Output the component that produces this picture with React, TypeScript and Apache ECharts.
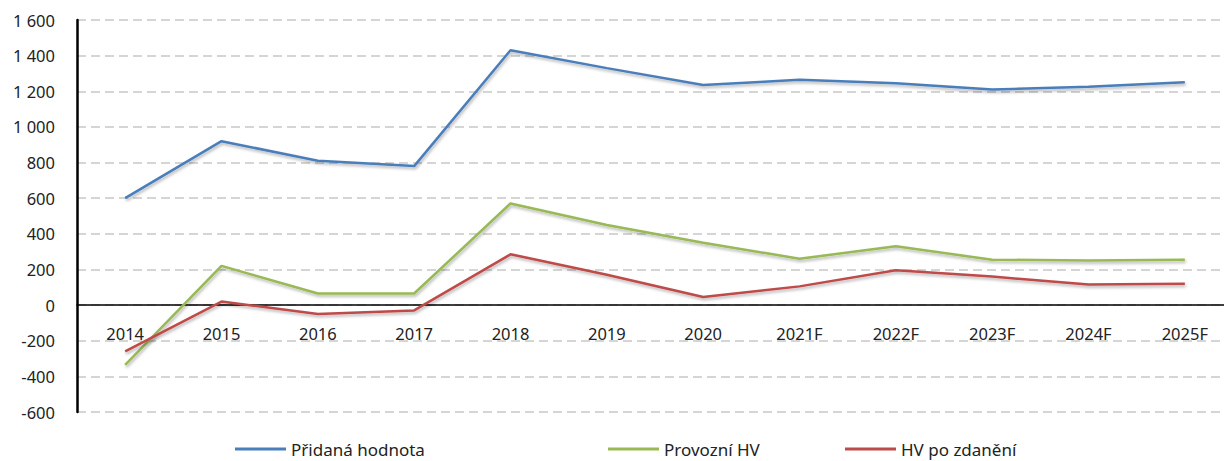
import React, { useEffect, useRef } from "react";
import * as echarts from "echarts";

const categories = ["2014", "2015", "2016", "2017", "2018", "2019", "2020", "2021F", "2022F", "2023F", "2024F", "2025F"];
const pridanaHodnota = [600, 920, 810, 780, 1430, 1330, 1235, 1265, 1245, 1210, 1225, 1250];
const provozniHV = [-335, 220, 65, 65, 570, 450, 350, 260, 330, 255, 250, 255];
const hvPoZdaneni = [-260, 20, -50, -30, 285, 170, 45, 105, 195, 160, 115, 120];
const seriesNames = ["Přidaná hodnota", "Provozní HV", "HV po zdanění"];
const colors = ["#4a7ebb", "#98b954", "#be4b48"];

const FONT = "'Noto Sans', sans-serif";

export default function App() {
  const ref = useRef<HTMLDivElement>(null);
  useEffect(() => {
    if (!ref.current) return;
    const chart = echarts.init(ref.current, null, { renderer: "svg" });
    const data = [pridanaHodnota, provozniHV, hvPoZdaneni];
    const legendLefts = [235, 608, 845];
    chart.setOption({
      animation: false,
      grid: { left: 77, width: 1156, top: 20, height: 392 },
      legend: seriesNames.map((n, i) => ({
        data: [n],
        left: legendLefts[i],
        top: 439,
        padding: 0,
        icon: "rect",
        itemWidth: 51,
        itemHeight: 3,
        itemGap: 4,
        textStyle: { fontFamily: FONT, fontSize: 17, color: "#222", lineHeight: 20 },
      })),
      xAxis: {
        type: "category",
        data: categories,
        boundaryGap: true,
        position: "bottom",
        offset: -107,
        axisLine: { onZero: false, lineStyle: { color: "#000", width: 1.5 } },
        axisTick: { show: false },
        axisLabel: { color: "#222", fontFamily: FONT, fontSize: 16.5, margin: 20 },
        splitLine: { show: false },
      },
      yAxis: {
        type: "value",
        min: -600,
        max: 1600,
        interval: 200,
        axisLine: { show: true, lineStyle: { color: "#000", width: 2.5 } },
        axisTick: { show: false },
        axisLabel: {
          color: "#222",
          fontFamily: FONT,
          fontSize: 16.5,
          margin: 22,
          formatter: (v: number) => {
            const s = Math.abs(v).toString();
            const withSpace = s.length > 3 ? s.slice(0, s.length - 3) + " " + s.slice(-3) : s;
            return (v < 0 ? "-" : "") + withSpace;
          },
        },
        splitLine: { show: true, lineStyle: { color: "#c8c8c8", width: 1.5, type: [9, 5] } },
      },
      series: data.map((d, i) => ({
        name: seriesNames[i],
        type: "line",
        data: d,
        symbol: "none",
        color: colors[i],
        lineStyle: {
          color: colors[i],
          width: 2.5,
          shadowColor: "rgba(0,0,0,0.3)",
          shadowBlur: 3,
          shadowOffsetY: 2,
          shadowOffsetX: 1,
        },
      })),
    });
    return () => chart.dispose();
  }, []);
  return (
    <div
      ref={ref}
      style={{ position: "fixed", left: 0, top: 0, width: 1240, height: 461, background: "#fff" }}
    />
  );
}
